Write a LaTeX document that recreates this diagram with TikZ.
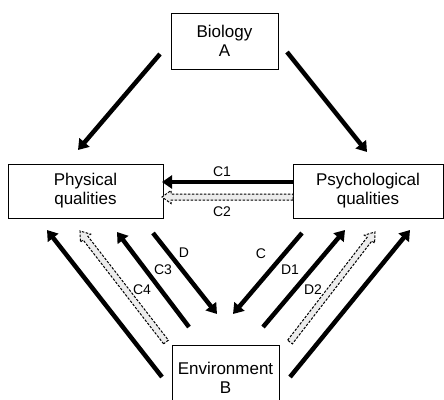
\documentclass[tikz,border=0pt]{standalone}
\usepackage{fontspec}
\setmainfont{Liberation Sans}
\usetikzlibrary{arrows.meta,calc}
\newcommand\hollowarr[2]{%
  \coordinate (hh) at ($(#2)!9pt!(#1)$);
  \path[hollow] ($(#1)!3pt!90:(#2)$) -- ($(hh)!3pt!90:(#2)$) -- ($(hh)!6.5pt!90:(#2)$) -- (#2)
    -- ($(hh)!6.5pt!-90:(#2)$) -- ($(hh)!3pt!-90:(#2)$) -- ($(#1)!3pt!-90:(#2)$) -- cycle;}
\begin{document}
\begin{tikzpicture}[x=1pt,y=-1pt,
 box/.style={draw,line width=0.9pt,inner sep=0pt,align=center,font=\fontsize{17}{19}\selectfont},
 solidarrow/.style={line width=4.5pt,-{Triangle[width=13pt,length=10pt]}},
 hollow/.style={draw,dash pattern=on 2.5pt off 1.5pt,line width=1pt,fill=gray!15},
 lab/.style={font=\fontsize{14}{16}\selectfont,inner sep=0pt}]
\useasboundingbox (0,0) rectangle (444,399);
\node[box,minimum width=107pt,minimum height=56pt] (bio) at (224.5,41) {Biology\\A};
\node[box,minimum width=155pt,minimum height=54pt] (phys) at (85.5,191) {Physical\\qualities};
\node[box,minimum width=150pt,minimum height=54pt] (psych) at (368,191) {Psychological\\qualities};
\node[box,minimum width=107pt,minimum height=66pt] (env) at (225.5,378) {Environment\\B};
% endpoints
\coordinate (a1s) at (160,54);  \coordinate (a1t) at (78,150);
\coordinate (a2s) at (287,52);  \coordinate (a2t) at (367,152);
\coordinate (c1s) at (293,182); \coordinate (c1t) at (162,182);
\coordinate (c2s) at (293,197); \coordinate (c2t) at (162,197);
\coordinate (l1s) at (162,377); \coordinate (l1t) at (47,230);
\coordinate (l2s) at (166,342); \coordinate (l2t) at (80,231);
\coordinate (l3s) at (189,327); \coordinate (l3t) at (117,232);
\coordinate (l4s) at (153,233); \coordinate (l4t) at (217,314);
\coordinate (r4s) at (302,233); \coordinate (r4t) at (233,314);
\coordinate (r3s) at (263,327); \coordinate (r3t) at (345,230);
\coordinate (r2s) at (290,342); \coordinate (r2t) at (375,232);
\coordinate (r1s) at (290,377); \coordinate (r1t) at (410,230);
\draw[solidarrow] (a1s) -- (a1t);
\draw[solidarrow] (a2s) -- (a2t);
\draw[solidarrow] (c1s) -- (c1t);
\hollowarr{c2s}{c2t}
\draw[solidarrow] (l1s) -- (l1t);
\hollowarr{l2s}{l2t}
\draw[solidarrow] (l3s) -- (l3t);
\draw[solidarrow] (l4s) -- (l4t);
\draw[solidarrow] (r4s) -- (r4t);
\draw[solidarrow] (r3s) -- (r3t);
\hollowarr{r2s}{r2t}
\draw[solidarrow] (r1s) -- (r1t);
% labels
\node[lab] (lc1) at (222,172) {C1};
\node[lab] (lc2) at (222,212) {C2};
\node[lab] (ld) at (184,253) {D};
\node[lab] (lc3) at (163,270) {C3};
\node[lab] (lc4) at (142,290) {C4};
\node[lab] (lc) at (261,254) {C};
\node[lab] (ld1) at (290,270) {D1};
\node[lab] (ld2) at (313,290) {D2};
\end{tikzpicture}
\end{document}
